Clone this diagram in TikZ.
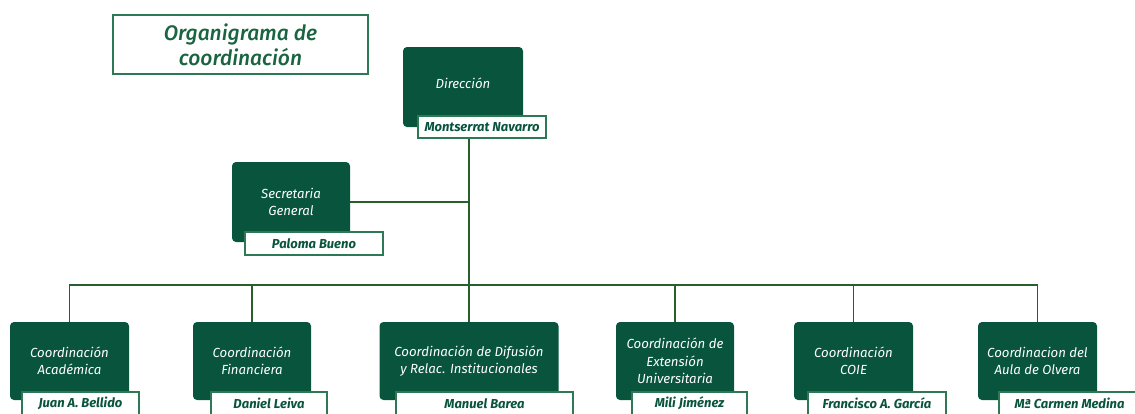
\documentclass[tikz,border=0pt]{standalone}
\usepackage{fontspec}
\setmainfont{Fira Sans}
\IfFontExistsTF{Fira Sans Medium Italic}
  {\newfontfamily\titlefont{Fira Sans Medium Italic}}
  {\newfontfamily\titlefont{Fira Sans Italic}[FakeBold=0.6]}
\definecolor{boxgreen}{RGB}{8,84,60}
\definecolor{edgegreen}{RGB}{45,120,85}
\definecolor{titlegreen}{RGB}{25,100,65}
\definecolor{linegreen}{RGB}{40,95,45}
\begin{document}
\begin{tikzpicture}[x=1pt,y=-1pt,
  orgbox/.style={fill=boxgreen, draw=none, rounded corners=4pt, text=white,
    font=\fontsize{13.2}{17.5}\selectfont\itshape, align=center, inner sep=0pt},
  namebox/.style={fill=white, draw=edgegreen, line width=1.3pt, text=boxgreen,
    font=\fontsize{13}{15}\selectfont\bfseries\itshape, align=center, inner sep=0pt},
  conn/.style={draw=linegreen, line width=1.6pt},
  titlebox/.style={draw=edgegreen, line width=1.2pt, text=titlegreen,
    font=\titlefont\fontsize{21}{25}\selectfont, align=center, inner sep=0pt}]
\useasboundingbox (0,0) rectangle (1135,413);

\node[titlebox, minimum width=255pt, minimum height=59pt] (title) at (240.5,44.5) {Organigrama de\\coordinación};

% Direccion
\node[orgbox, minimum width=120pt, minimum height=80pt] (dir) at (463,87) {\raisebox{8pt}{Dirección}};
\node[namebox, minimum width=128pt, minimum height=22pt] (dirname) at (482,127) {Montserrat Navarro};

% Secretaria
\node[orgbox, minimum width=118pt, minimum height=80pt] (sec) at (291,202) {Secretaria\\General};
\node[namebox, minimum width=138pt, minimum height=23pt] (secname) at (314,243.5) {Paloma Bueno};

% bottom row
\node[orgbox, minimum width=119pt, minimum height=78pt] (b1) at (69.5,361) {Coordinación\\Académica};
\node[namebox, minimum width=117pt, minimum height=23pt] (n1) at (80.5,403.5) {Juan A. Bellido};

\node[orgbox, minimum width=118pt, minimum height=78pt] (b2) at (252,361) {Coordinación\\Financiera};
\node[namebox, minimum width=116pt, minimum height=23pt] (n2) at (269,403.5) {Daniel Leiva};

\node[orgbox, minimum width=179pt, minimum height=78pt] (b3) at (469,361) {Coordinación de Difusión\\y Relac. Institucionales};
\node[namebox, minimum width=177pt, minimum height=23pt] (n3) at (484.5,403.5) {Manuel Barea};

\node[orgbox, minimum width=118pt, minimum height=78pt] (b4) at (675,361) {Coordinación de\\Extensión\\Universitaria};
\node[namebox, minimum width=115pt, minimum height=23pt] (n4) at (689.5,403.5) {Mili Jiménez};

\node[orgbox, minimum width=119pt, minimum height=78pt] (b5) at (853.5,361) {Coordinación\\COIE};
\node[namebox, minimum width=138pt, minimum height=23pt] (n5) at (877,403.5) {Francisco A. García};

\node[orgbox, minimum width=119pt, minimum height=78pt] (b6) at (1037.5,361) {Coordinacion del\\Aula de Olvera};
\node[namebox, minimum width=141pt, minimum height=23pt] (n6) at (1069.5,403.5) {Mª Carmen Medina};

% connectors
\coordinate (bus) at (70,285);
\draw[conn] (b3.north) -- (b3.north |- dirname.south);
\draw[conn] (sec.east) -- (sec.east -| b3.north);
\draw[conn] (b1.north) -- (b1.north |- bus) -- (b6.north |- bus) -- (b6.north);
\foreach \b in {b2,b4,b5}{
  \draw[conn] (\b.north) -- (\b.north |- bus);
}
\end{tikzpicture}
\end{document}
